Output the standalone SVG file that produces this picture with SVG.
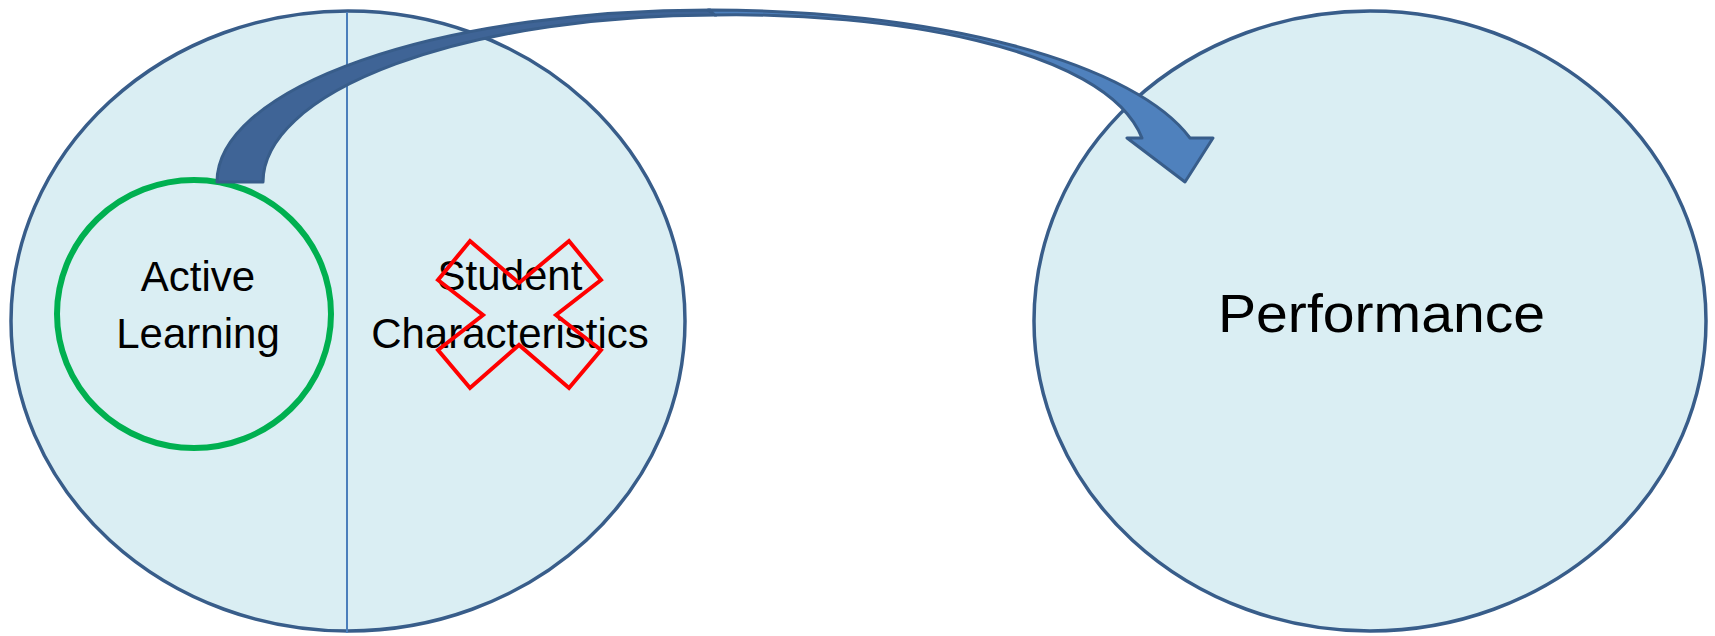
<svg xmlns="http://www.w3.org/2000/svg" width="1715" height="636" viewBox="0 0 1715 636">
<style>
.big{fill:#DAEEF3;stroke:#385D8A;stroke-width:3.5}
.lbl{font-family:"Liberation Sans",Arial,sans-serif;font-size:42px;fill:#000;text-anchor:middle}
.arrow-back{fill:#3F6496;stroke:#385D8A;stroke-width:3;stroke-linejoin:round}
.arrow-front{fill:#4F81BD;stroke:#385D8A;stroke-width:3;stroke-linejoin:round}
</style>
<rect width="1715" height="636" fill="#FFFFFF"/>
<g id="node-left">
<ellipse class="big" cx="348" cy="321" rx="337" ry="310"/>
<line x1="347" y1="12" x2="347" y2="633" stroke="#4A7EBB" stroke-width="2"/>
</g>
<g id="node-active-learning">
<ellipse cx="194" cy="314" rx="137" ry="134" fill="none" stroke="#00B050" stroke-width="6"/>
<text class="lbl" x="198" y="291">Active</text>
<text class="lbl" x="198" y="348">Learning</text>
</g>
<g id="node-student">
<text class="lbl" x="510" y="290">Student</text>
<text class="lbl" x="510" y="348">Characteristics</text>
<polygon points="470,241 519,283 569,241 601,280 556,315 601,350 569,388 519,345 470,388 438,350 483,315 438,280" fill="none" stroke="#FF0000" stroke-width="4"/>
</g>
<g id="node-performance">
<ellipse class="big" cx="1370" cy="321" rx="336" ry="310"/>
<text x="1381.5" y="332" font-family="Liberation Sans, Arial, sans-serif" font-size="53" text-anchor="middle" textLength="327" lengthAdjust="spacingAndGlyphs">Performance</text>
</g>
<g id="connectors">
<path class="arrow-back" d="M217,182 A493,172 0 0 1 710,10 L716,15 A453,167 0 0 0 263,182 Z"/>
<path class="arrow-front" d="M708,10 A495,170 0 0 1 1190,138 L1213,138 L1185,182 L1127,138 L1142,138 C1105,45 880,12 715,15 Z"/>
</g>
</svg>
